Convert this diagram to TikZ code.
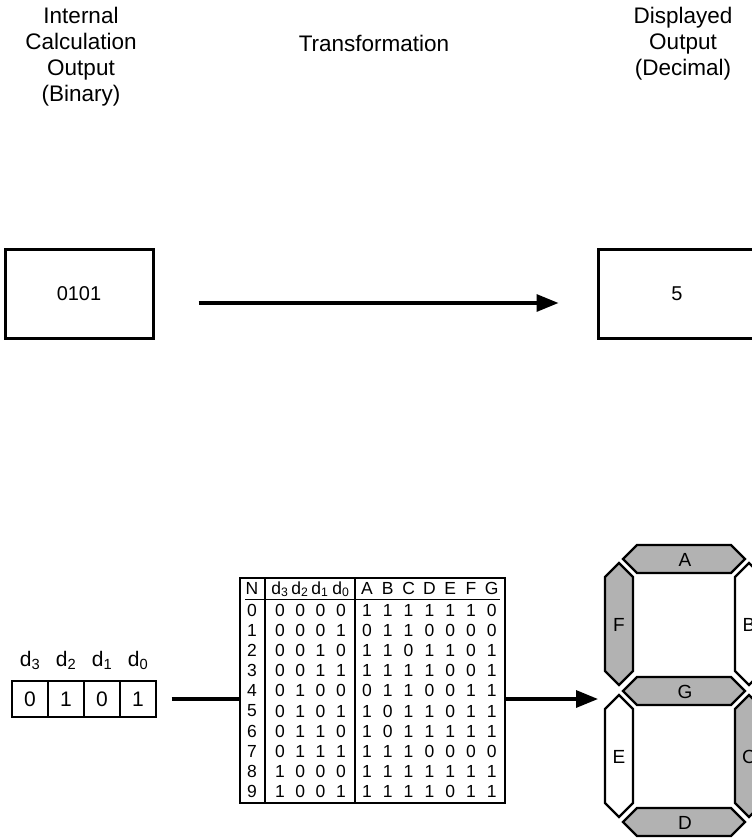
\documentclass[tikz,border=0pt]{standalone}
\usepackage{fontspec}
\setmainfont{Liberation Sans}
\usetikzlibrary{arrows.meta,calc}
\definecolor{seggray}{gray}{0.70}
\tikzset{
  hseg/.pic={\path[pic actions] (-61,0) -- (-47,-14) -- (47,-14) -- (61,0) -- (47,14) -- (-47,14) -- cycle;},
  vseg/.pic={\path[pic actions] (0,-61) -- (14,-47) -- (14,47) -- (0,61) -- (-14,47) -- (-14,-47) -- cycle;}
}
\begin{document}
\begin{tikzpicture}[x=1pt,y=-1pt,
  hdr/.style={align=center,font=\fontsize{22.5}{26}\selectfont,inner sep=0},
  bigbox/.style={draw,line width=3pt,minimum width=148pt,minimum height=89pt,inner sep=0,font=\fontsize{20}{24}\selectfont},
  conn/.style={line width=3.2pt},
  arr/.style={line width=3.2pt,-{Triangle[length=22pt,width=17pt]}},
  bitbox/.style={draw,line width=1.2pt,minimum width=36pt,minimum height=36pt,inner sep=0,font=\fontsize{21}{24}\selectfont},
  bitlbl/.style={inner sep=0,anchor=base,font=\fontsize{21}{24}\selectfont},
  tcell/.style={inner sep=0,font=\fontsize{17.5}{19}\selectfont},
  thead/.style={inner sep=0,anchor=base,font=\fontsize{17.5}{19}\selectfont},
  tblbox/.style={draw,line width=2.6pt,minimum width=265pt,minimum height=225pt,inner sep=0},
  tblrule/.style={line width=1.2pt},
  segline/.style={draw,line width=2.2pt,line join=miter},
  seglbl/.style={inner sep=0,font=\fontsize{19}{22}\selectfont},
]
\useasboundingbox (0,0) rectangle (752,838);
\clip (0,0) rectangle (752,838);

% headers
\node[hdr] (hin) at (81,57) {Internal\\Calculation\\Output\\(Binary)};
\node[hdr] (htr) at (374,43) {Transformation};
\node[hdr] (hout) at (683,44) {Displayed\\Output\\(Decimal)};

% top boxes
\node[bigbox] (bin) at (79,293.5) {0101};
\node[bigbox,minimum width=158pt] (dec) at (677,293.5) {5};
\draw[arr,shorten <=44pt,shorten >=38pt] ([yshift=-9.5pt]bin.east) -- ([yshift=-9.5pt]dec.west);

% bit boxes
\node[bitbox] (b3) at (30,699) {0};
\node[bitbox] (b2) at (66,699) {1};
\node[bitbox] (b1) at (102,699) {0};
\node[bitbox] (b0) at (138,699) {1};
\node[bitlbl] (l3) at (30,666) {d\textsubscript{3}};
\node[bitlbl] (l2) at (66,666) {d\textsubscript{2}};
\node[bitlbl] (l1) at (102,666) {d\textsubscript{1}};
\node[bitlbl] (l0) at (138,666) {d\textsubscript{0}};

% table
\node[tblbox] (tbl) at (372.5,690.5) {};
\draw[tblrule] (265,578) -- (265,803);
\draw[tblrule] (355,578) -- (355,803);
\draw[line width=0.9pt] (245,599) -- (500,599);
\node[thead] (hN) at (252,594) {N};
\node[thead] (hd3) at (280,594) {d\textsubscript{3}};
\node[thead] (hd2) at (300,594) {d\textsubscript{2}};
\node[thead] (hd1) at (320,594) {d\textsubscript{1}};
\node[thead] (hd0) at (341,594) {d\textsubscript{0}};
\foreach \s [count=\k from 0] in {A,B,C,D,E,F,G}
  \node[thead] (hs\s) at ({367+20.8*\k},594) {\s};
\foreach \r/\bits in {0/{0,0,0,0,1,1,1,1,1,1,0},1/{0,0,0,1,0,1,1,0,0,0,0},2/{0,0,1,0,1,1,0,1,1,0,1},3/{0,0,1,1,1,1,1,1,0,0,1},4/{0,1,0,0,0,1,1,0,0,1,1},5/{0,1,0,1,1,0,1,1,0,1,1},6/{0,1,1,0,1,0,1,1,1,1,1},7/{0,1,1,1,1,1,1,0,0,0,0},8/{1,0,0,0,1,1,1,1,1,1,1},9/{1,0,0,1,1,1,1,1,0,1,1}}{
  \node[tcell] (n\r) at (252,{610+20.2*\r}) {\r};
  \foreach \v [count=\i] in \bits {
    \pgfmathsetmacro\xx{\i<5 ? 280+(\i-1)*20.3 : 367+(\i-5)*20.8}
    \node[tcell] (c\r-\i) at (\xx,{610+20.2*\r}) {\v};
  }
}

% connectors
\draw[conn,shorten <=15pt] (b0.east) -- (b0.east -| tbl.west);
\coordinate (dispin) at (598,699);
\draw[arr] (b0.east -| tbl.east) -- (dispin);

% seven-segment display
\pic[segline,fill=seggray] at (684,559) {hseg};
\pic[segline,fill=seggray] at (684,691) {hseg};
\pic[segline,fill=seggray] at (684,822) {hseg};
\pic[segline,fill=seggray] at (619,624) {vseg};
\pic[segline,fill=white] at (619,756) {vseg};
\pic[segline,fill=white] at (749,624) {vseg};
\pic[segline,fill=seggray] at (749,756) {vseg};
\node[seglbl] (sA) at (685,560) {A};
\node[seglbl] (sG) at (685,692) {G};
\node[seglbl] (sD) at (685,823) {D};
\node[seglbl] (sF) at (619,625) {F};
\node[seglbl] (sE) at (619,757) {E};
\node[seglbl] (sB) at (749,625) {B};
\node[seglbl] (sC) at (749,757) {C};
\end{tikzpicture}
\end{document}
